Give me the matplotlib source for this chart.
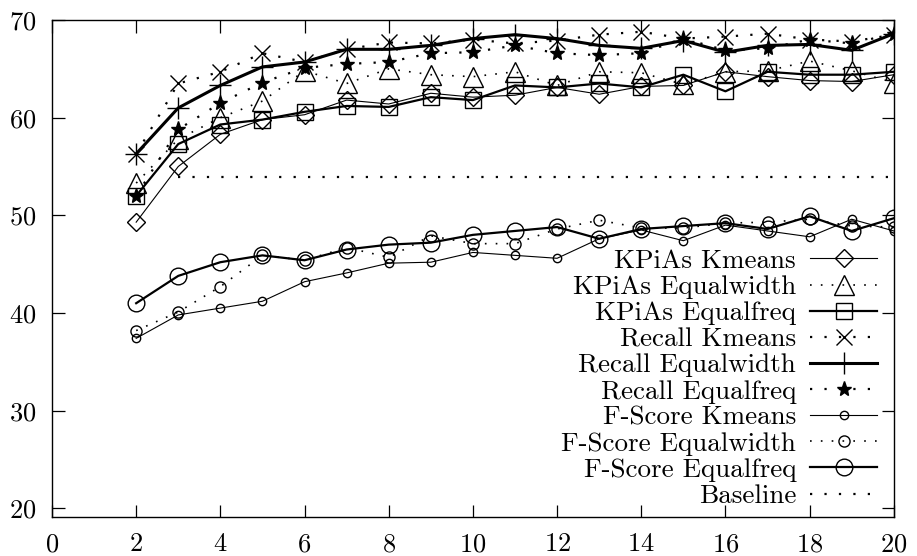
import matplotlib.pyplot as plt
import numpy as np

plt.rcParams['font.family'] = ['cmr10', 'DejaVu Serif']
plt.rcParams['axes.formatter.use_mathtext'] = True

# число кластеров / интервалов дискретизации
k = np.arange(2, 21)

kpias_kmeans = [49.3, 55.0, 58.3, 59.8, 60.3, 61.8, 61.4, 62.5, 62.1, 62.3,
                63.1, 62.4, 63.2, 63.3, 64.7, 64.2, 63.8, 63.7, 64.4]
kpias_equalwidth = [53.3, 57.8, 60.0, 61.7, 64.8, 63.5, 65.0, 64.4, 64.2, 64.7,
                    63.3, 64.7, 64.6, 63.4, 64.7, 64.8, 65.8, 64.8, 63.6]
kpias_equalfreq = [52.0, 57.3, 59.3, 59.8, 60.6, 61.2, 61.1, 62.1, 61.8, 63.3,
                   63.1, 63.5, 63.1, 64.4, 62.7, 64.7, 64.4, 64.4, 64.7]
recall_kmeans = [56.3, 63.5, 64.7, 66.6, 65.7, 67.0, 67.7, 67.6, 68.0, 67.6,
                 67.9, 68.5, 68.8, 68.1, 68.3, 68.6, 68.0, 67.8, 68.5]
recall_equalwidth = [56.3, 61.0, 63.3, 65.2, 65.7, 67.0, 67.0, 67.4, 68.1, 68.5,
                     68.1, 67.4, 67.1, 67.9, 66.7, 67.4, 67.5, 66.9, 68.6]
recall_equalfreq = [52.0, 58.8, 61.5, 63.6, 65.1, 65.5, 65.7, 66.6, 66.7, 67.4,
                    66.6, 66.4, 66.6, 68.1, 66.9, 67.1, 68.0, 67.6, 68.6]
fscore_kmeans = [37.4, 39.8, 40.5, 41.2, 43.2, 44.1, 45.1, 45.2, 46.2, 45.9,
                 45.6, 47.6, 48.5, 47.4, 49.0, 48.4, 47.8, 49.6, 48.4]
fscore_equalwidth = [38.2, 40.1, 42.7, 45.9, 45.4, 46.7, 45.7, 47.9, 47.1, 47.1,
                     48.6, 49.5, 48.7, 48.7, 49.2, 49.3, 49.6, 48.9, 48.8]
fscore_equalfreq = [41.0, 43.8, 45.2, 45.9, 45.4, 46.5, 47.0, 47.2, 48.0, 48.4,
                    48.8, 47.6, 48.6, 48.9, 49.2, 48.6, 49.9, 48.4, 49.7]
baseline_k = [3, 20]
baseline = [53.9, 53.9]

x_ticks = [0, 2, 4, 6, 8, 10, 12, 14, 16, 18, 20]
y_ticks = [20, 30, 40, 50, 60, 70]

DOT = (0, (1, 5.5))

fig = plt.figure(figsize=(9.17, 5.56), dpi=100)
ax = fig.add_axes([0.0567, 0.070, 0.918, 0.894])

common = dict(color="black", mfc="none", mec="black", mew=1.0)
ax.plot(k, kpias_kmeans, "-", marker="D", ms=9, lw=0.8, label="KPiAs Kmeans", **common)
ax.plot(k, kpias_equalwidth, linestyle=DOT, marker="^", ms=14, lw=1.2, label="KPiAs Equalwidth", **common)
ax.plot(k, kpias_equalfreq, "-", marker="s", ms=11, lw=1.6, label="KPiAs Equalfreq", **common)
ax.plot(k, recall_kmeans, linestyle=DOT, marker="x", ms=12, lw=1.6, label="Recall Kmeans", **common)
ax.plot(k, recall_equalwidth, "-", marker="+", ms=16, lw=2.2, label="Recall Equalwidth", **common)
ax.plot(k, recall_equalfreq, linestyle=DOT, marker="*", ms=11, lw=1.6, color="black",
        mfc="black", mec="black", label="Recall Equalfreq")
ax.plot(k, fscore_kmeans, "-", marker="o", ms=6, lw=0.8, label="F-Score Kmeans", **common)
ax.plot(k, fscore_equalwidth, linestyle=DOT, marker="o", ms=8, lw=1.2, label="F-Score Equalwidth", **common)
ax.plot(k, fscore_equalfreq, "-", marker="o", ms=12, lw=1.6, label="F-Score Equalfreq", **common)
ax.plot(baseline_k, baseline, linestyle=DOT, lw=1.6, color="black", label="Baseline")

ax.set_xlim(0, 20)
ax.set_ylim(19.1, 70)
ax.set_xticks(x_ticks)
ax.set_yticks(y_ticks)
ax.tick_params(direction="in", length=9, width=0.9, top=True, right=True,
               labelsize=19, pad=11)
for s in ax.spines.values():
    s.set_linewidth(1.0)

ax.legend(loc="lower right", bbox_to_anchor=(1.003, -0.02), frameon=False,
          markerfirst=False, fontsize=19.5, numpoints=1, handlelength=2.5,
          handletextpad=0.5, labelspacing=0.08, borderpad=0.2)

plt.savefig("out.png", dpi=100)
plt.close()
